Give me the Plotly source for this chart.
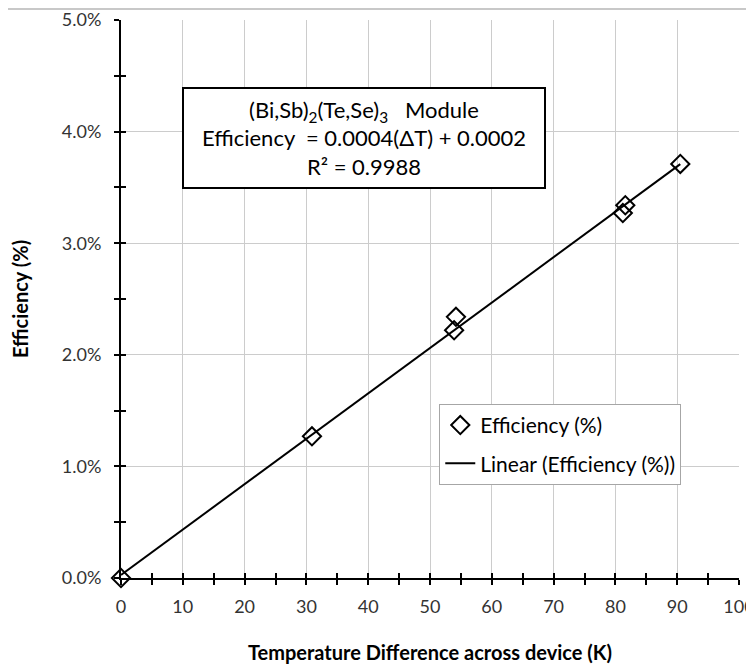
import numpy as np
import plotly.graph_objects as go

# Data
delta_T = [0.0, 30.9, 53.9, 54.2, 81.2, 81.6, 90.5]          # K
efficiency = [0.0, 0.0127, 0.0222, 0.0234, 0.0327, 0.0334, 0.0371]  # fraction

x_ticks = list(range(0, 101, 10))
y_ticks = [0.0, 0.01, 0.02, 0.03, 0.04, 0.05]

# Linear trendline (least squares through the data)
slope, intercept = np.polyfit(delta_T, efficiency, 1)
trend_x = [min(delta_T), max(delta_T)]
trend_y = [slope * v + intercept for v in trend_x]

FONT = "Lato"

fig = go.Figure()
fig.add_trace(go.Scatter(
    x=trend_x, y=trend_y, mode="lines",
    line=dict(color="black", width=2),
    name="Linear (Efficiency (%))", legendgroup="b", legendrank=2,
))
fig.add_trace(go.Scatter(
    x=delta_T, y=efficiency, mode="markers", cliponaxis=False,
    marker=dict(symbol="diamond-open", size=14, color="black",
                line=dict(color="black", width=2)),
    name="Efficiency (%)", legendgroup="a", legendrank=1,
))
# invisible trace on overlay axes (for crossing ticks)
fig.add_trace(go.Scatter(x=[0], y=[0], xaxis="x2", yaxis="y2", mode="markers",
                         marker=dict(opacity=0), showlegend=False, hoverinfo="skip"))

grid = "#cccccc"
tick_font = dict(size=18, family=FONT, color="#333333")
# page body has an 8px default margin, so the figure is 8px smaller than the window
fig.update_layout(
    width=746, height=658,
    paper_bgcolor="white", plot_bgcolor="white",
    margin=dict(l=113, r=15, t=12, b=88, autoexpand=False),
    font=dict(family=FONT, color="black"),
    showlegend=True,
    legend=dict(
        x=0.515, y=0.312, xanchor="left", yanchor="top",
        bordercolor="#a6a6a6", borderwidth=1, bgcolor="white",
        font=dict(size=21, family=FONT), traceorder="grouped",
        itemwidth=30, tracegroupgap=8,
    ),
    xaxis=dict(
        range=[0, 100], tickvals=x_ticks, ticktext=[str(v) for v in x_ticks],
        showgrid=True, gridcolor=grid, gridwidth=1,
        showline=True, linecolor="black", linewidth=2,
        ticks="outside", ticklen=5, tickwidth=2, tickcolor="black",
        minor=dict(dtick=5, ticks="outside", ticklen=5, tickwidth=2, tickcolor="black", showgrid=False),
        tickfont=tick_font, ticklabelstandoff=6, ticklabeloverflow="allow",
        zeroline=False, automargin=False,
        title=dict(text="<b>Temperature Difference across device (K)</b>",
                   font=dict(size=20, family=FONT), standoff=30),
    ),
    yaxis=dict(
        range=[0, 0.05], tickvals=y_ticks, tickformat=".1%",
        showgrid=True, gridcolor=grid, gridwidth=1,
        showline=True, linecolor="black", linewidth=2,
        ticks="outside", ticklen=5, tickwidth=2, tickcolor="black",
        minor=dict(dtick=0.005, ticks="outside", ticklen=5, tickwidth=2, tickcolor="black", showgrid=False),
        tickfont=tick_font, ticklabelstandoff=9, ticklabeloverflow="allow",
        zeroline=False, automargin=False,
        title=dict(text="<b>Efficiency (%)</b>", font=dict(size=20, family=FONT), standoff=28),
    ),
    xaxis2=dict(
        overlaying="x", matches="x", range=[0, 100], tickvals=x_ticks,
        showticklabels=False, showgrid=False, zeroline=False, showline=False,
        ticks="inside", ticklen=5, tickwidth=2, tickcolor="black",
        minor=dict(dtick=5, ticks="inside", ticklen=5, tickwidth=2, tickcolor="black", showgrid=False),
        side="bottom", automargin=False,
    ),
    yaxis2=dict(
        overlaying="y", matches="y", range=[0, 0.05], tickvals=y_ticks,
        showticklabels=False, showgrid=False, zeroline=False, showline=False,
        ticks="inside", ticklen=5, tickwidth=2, tickcolor="black",
        minor=dict(dtick=0.005, ticks="inside", ticklen=5, tickwidth=2, tickcolor="black", showgrid=False),
        side="left", automargin=False,
    ),
)

fig.add_annotation(
    x=39.3, y=0.0394, xref="x", yref="y", xanchor="center", yanchor="middle",
    text="(Bi,Sb)<sub>2</sub>(Te,Se)<sub>3</sub>   Module<br>"
         "Efficiency  = 0.0004(ΔT) + 0.0002<br>R² = 0.9988",
    showarrow=False, align="center",
    font=dict(size=22, family=FONT, color="black"),
    bordercolor="black", borderwidth=2, borderpad=4, bgcolor="white",
    width=352, height=90,
)

# thin gray border line at the top of the chart area
fig.add_shape(type="line", xref="paper", yref="paper",
              x0=-0.183, x1=1.03, y0=1.0197, y1=1.0197,
              line=dict(color="#c8c8c8", width=2))

fig.write_html("out.html")
